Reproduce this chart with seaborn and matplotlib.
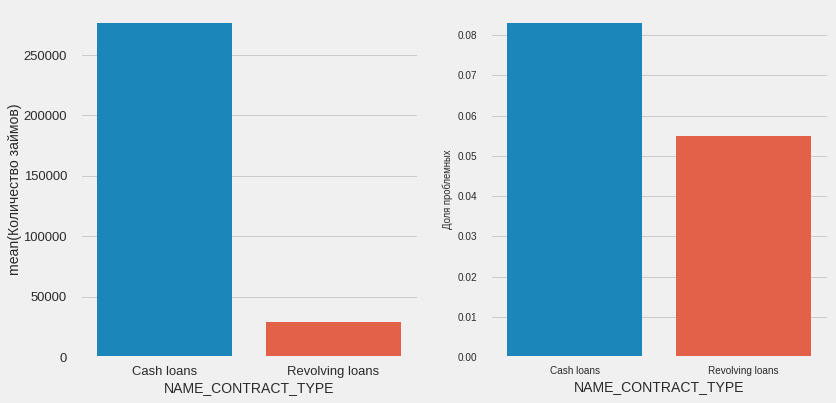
import matplotlib
matplotlib.use("Agg")
import matplotlib.pyplot as plt
import seaborn as sns
import pandas as pd

categories = ["Cash loans", "Revolving loans"]
loan_counts = [278232, 29279]
problem_share = [0.0835, 0.0548]

plt.style.use("fivethirtyeight")
plt.rcParams["font.family"] = ["Liberation Sans", "DejaVu Sans"]
plt.rcParams["figure.facecolor"] = "#f0f0f0"
plt.rcParams["axes.facecolor"] = "#f0f0f0"
plt.rcParams["savefig.facecolor"] = "#f0f0f0"

palette = ["#008fd5", "#fc4f30"]
txt = "#2a2a2a"

df1 = pd.DataFrame({"NAME_CONTRACT_TYPE": categories, "Количество займов": loan_counts})
df2 = pd.DataFrame({"NAME_CONTRACT_TYPE": categories, "Доля проблемных": problem_share})

fig = plt.figure(figsize=(836 / 72, 403 / 72), dpi=72)
ax1 = fig.add_axes([80 / 836, 46 / 403, 338 / 836, 336 / 403])
ax2 = fig.add_axes([490 / 836, 46 / 403, 338 / 836, 336 / 403])

sns.barplot(data=df1, x="NAME_CONTRACT_TYPE", y="Количество займов", hue="NAME_CONTRACT_TYPE",
            palette=palette, legend=False, ax=ax1, errorbar=None)
ax1.set_ylim(0, max(loan_counts))
ax1.set_ylabel("mean(Количество займов)", fontsize=14, color=txt, labelpad=1)
ax1.set_xlabel("NAME_CONTRACT_TYPE", fontsize=14, color=txt, labelpad=3)
ax1.tick_params(axis="both", labelsize=13, colors=txt)
ax1.tick_params(axis="y", pad=13)
ax1.tick_params(axis="x", pad=9)
ax1.grid(axis="x", visible=False)

ticks2 = [0, 0.01, 0.02, 0.03, 0.04, 0.05, 0.06, 0.07, 0.08]
sns.barplot(data=df2, x="NAME_CONTRACT_TYPE", y="Доля проблемных", hue="NAME_CONTRACT_TYPE",
            palette=palette, legend=False, ax=ax2, errorbar=None)
ax2.set_ylim(0, max(problem_share))
ax2.set_yticks(ticks2)
ax2.set_yticklabels([f"{v:.2f}" for v in ticks2])
ax2.set_ylabel("Доля проблемных", fontsize=9.5, color=txt, labelpad=4)
ax2.set_xlabel("NAME_CONTRACT_TYPE", fontsize=14, color=txt, labelpad=4)
ax2.tick_params(axis="both", labelsize=10, colors=txt)
ax2.tick_params(axis="y", pad=13)
ax2.tick_params(axis="x", pad=9)
ax2.grid(axis="x", visible=False)

fig.savefig("out.png", dpi=72)
